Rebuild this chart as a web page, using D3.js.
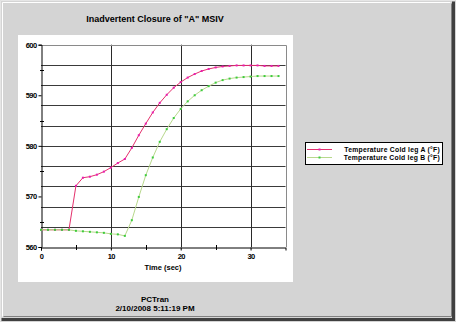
<!DOCTYPE html>
<html>
<head>
<meta charset="utf-8">
<script src="https://cdn.jsdelivr.net/npm/d3@7"></script>
<style>
  html, body { margin: 0; padding: 0; background: #d4d4d4; }
  svg { display: block; }
  text { font-family: Arial, "Liberation Sans", sans-serif; font-weight: bold; fill: #000; }
</style>
</head>
<body>
<script>
// Time axis (seconds) sampled every second
const timeSec = d3.range(0, 35);

// Cold leg temperatures (°F)
const coldLegA = [563.4, 563.4, 563.4, 563.4, 563.4, 572.1, 573.7, 573.9, 574.3, 574.9,
                  575.7, 576.6, 577.4, 579.6, 582.1, 584.4, 586.6, 588.5, 590.1, 591.5,
                  592.6, 593.5, 594.2, 594.8, 595.2, 595.5, 595.7, 595.8, 595.9, 595.9,
                  595.9, 595.9, 595.8, 595.8, 595.8];
const coldLegB = [563.4, 563.4, 563.4, 563.4, 563.4, 563.2, 563.1, 563.0, 562.9, 562.8,
                  562.6, 562.5, 562.2, 565.3, 569.9, 574.2, 577.7, 580.8, 583.3, 585.5,
                  587.3, 588.8, 590.0, 591.0, 591.8, 592.5, 593.0, 593.3, 593.5, 593.6,
                  593.7, 593.8, 593.8, 593.8, 593.8];

const seriesNames = ["Temperature Cold leg A (°F)", "Temperature Cold leg B (°F)"];
const xTicks = [0, 10, 20, 30];
const xMinorTicks = [5, 15, 25];
const yTicks = [560, 570, 580, 590, 600];
const yMinorTicks = [565, 575, 585, 595];
const yGrid = [564, 568, 572, 576, 580, 584, 588, 592, 596];

const W = 456, H = 322;
const svg = d3.select("body").append("svg").attr("width", W).attr("height", H);

// Window frame with bevel
svg.append("rect").attr("x", 0).attr("y", 0).attr("width", W).attr("height", H).attr("fill", "#d4d4d4");
svg.append("path").attr("d", `M0.5,${H - 0.5} V0.5 H${W - 0.5}`).attr("fill", "none").attr("stroke", "#e6e6e6");
svg.append("path").attr("d", `M2.5,${H - 5.5} V2.5 H${W - 5.5}`).attr("fill", "none").attr("stroke", "#ffffff");
svg.append("path").attr("d", `M3.5,${H - 5.5} H${W - 4.5} V3.5`).attr("fill", "none").attr("stroke", "#808080").attr("stroke-width", 1);
svg.append("path").attr("d", `M1.5,${H - 2.5} H${W - 2.5} V1.5`).attr("fill", "none").attr("stroke", "#404040").attr("stroke-width", 3);

// Title
svg.append("text").attr("x", 155).attr("y", 22).attr("text-anchor", "middle")
  .attr("font-size", 9).text('Inadvertent Closure of "A" MSIV');

// White chart panel
svg.append("rect").attr("x", 18).attr("y", 35).attr("width", 275).attr("height", 247).attr("fill", "#ffffff");

const x = d3.scaleLinear().domain([0, 35]).range([41, 285.5]);
const y = d3.scaleLinear().domain([560, 600]).range([247, 44.7]);

const plot = svg.append("g");

// Grid
plot.selectAll("line.hgrid").data(yGrid).join("line")
  .attr("x1", x(0)).attr("x2", x(35))
  .attr("y1", d => Math.round(y(d)) + 0.5).attr("y2", d => Math.round(y(d)) + 0.5)
  .attr("stroke", "#3a3a3a").attr("stroke-width", 1);
plot.selectAll("line.vgrid").data([10, 20, 30]).join("line")
  .attr("x1", d => Math.round(x(d)) + 0.5).attr("x2", d => Math.round(x(d)) + 0.5)
  .attr("y1", y(600)).attr("y2", y(560))
  .attr("stroke", "#2a2a2a").attr("stroke-width", 1);

// Top and right frame
plot.append("path")
  .attr("d", `M${Math.round(x(0)) + 0.5},${Math.round(y(600)) + 0.5} H${Math.round(x(35)) + 0.5} V${Math.round(y(560)) + 0.5}`)
  .attr("fill", "none").attr("stroke", "#8a8a8a");

// Axes
const yAxis = d3.axisLeft(y).tickValues(yTicks).tickSize(3).tickPadding(2).tickFormat(d3.format("d"));
const xAxis = d3.axisBottom(x).tickValues(xTicks).tickSize(3).tickPadding(3).tickFormat(d3.format("d"));

const gy = svg.append("g").attr("transform", `translate(${Math.round(x(0)) + 0.5},0)`).call(yAxis);
const gx = svg.append("g").attr("transform", `translate(0,${Math.round(y(560)) + 0.5})`).call(xAxis);
[gy, gx].forEach(g => {
  g.select(".domain").attr("stroke", "#000");
  g.selectAll(".tick line").attr("stroke", "#000");
  g.selectAll(".tick text").attr("font-size", 7.5).attr("font-family", "Arial, 'Liberation Sans', sans-serif")
    .attr("font-weight", "bold").attr("letter-spacing", -0.6);
});

// Minor ticks
svg.selectAll("line.ymin").data(yMinorTicks).join("line")
  .attr("x1", x(0) - 1).attr("x2", x(0) + 3)
  .attr("y1", d => Math.round(y(d)) + 0.5).attr("y2", d => Math.round(y(d)) + 0.5)
  .attr("stroke", "#000");
svg.selectAll("line.xmin").data(xMinorTicks).join("line")
  .attr("x1", d => Math.round(x(d)) + 0.5).attr("x2", d => Math.round(x(d)) + 0.5)
  .attr("y1", y(560) - 2).attr("y2", y(560) + 3)
  .attr("stroke", "#000");

// Axis title
svg.append("text").attr("x", 163).attr("y", 270).attr("text-anchor", "middle")
  .attr("font-size", 7.5).text("Time (sec)");

// Series
const series = [
  { name: seriesNames[0], values: coldLegA, line: "#e4306c", marker: "#e81fb0" },
  { name: seriesNames[1], values: coldLegB, line: "#b8d88c", marker: "#3ccc3c" }
];
const lineGen = d3.line().x((d, i) => x(timeSec[i])).y(d => y(d));

// A is drawn first so its flat start sits beneath B
series.forEach(s => {
  const g = svg.append("g");
  g.append("path").datum(s.values).attr("d", lineGen)
    .attr("fill", "none").attr("stroke", s.line).attr("stroke-width", 1);
  g.selectAll("rect").data(s.values).join("rect")
    .attr("x", (d, i) => x(timeSec[i]) - 1).attr("y", d => y(d) - 1)
    .attr("width", 2).attr("height", 2).attr("fill", s.marker);
});

// Legend
const lg = svg.append("g");
lg.append("rect").attr("x", 305.5).attr("y", 142.5).attr("width", 137).attr("height", 22)
  .attr("fill", "#fff").attr("stroke", "#000");
series.forEach((s, i) => {
  const ly = 149.5 + i * 8;
  lg.append("line").attr("x1", 307).attr("x2", 332).attr("y1", ly).attr("y2", ly)
    .attr("stroke", s.line);
  lg.append("rect").attr("x", 318.5).attr("y", ly - 1).attr("width", 2).attr("height", 2).attr("fill", s.marker);
  lg.append("text").attr("x", 440).attr("y", ly + 2.4).attr("text-anchor", "end")
    .attr("font-size", 6.8).attr("letter-spacing", 0.25).text(s.name);
});

// Footer
svg.append("text").attr("x", 155).attr("y", 302).attr("text-anchor", "middle")
  .attr("font-size", 8).text("PCTran");
svg.append("text").attr("x", 155).attr("y", 311).attr("text-anchor", "middle")
  .attr("font-size", 8).text("2/10/2008 5:11:19 PM");
</script>
</body>
</html>
